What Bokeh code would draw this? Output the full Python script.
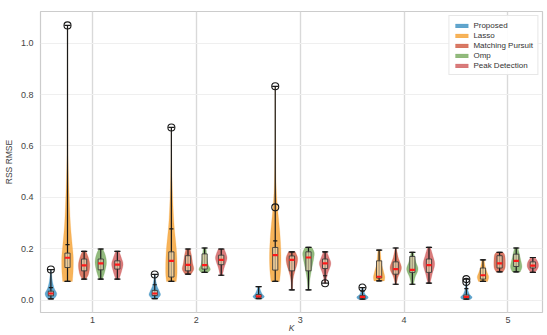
import numpy as np
from bokeh.plotting import figure
from bokeh.models import FixedTicker, Range1d
from bokeh.embed import file_html
from bokeh.resources import INLINE

# ---- data -----------------------------------------------------------------
K_VALUES = [1, 2, 3, 4, 5]
METHODS = ["Proposed", "Lasso", "Matching Pursuit", "Omp", "Peak Detection"]
COLORS = ["#3a8fc0", "#f5a030", "#d0583f", "#77a95d", "#cf5a5a"]

# per-method summary statistics, one value per K
DATA_MIN = {
    "Proposed":         [0.005, 0.006, 0.006, 0.004, 0.004],
    "Lasso":            [0.073, 0.073, 0.073, 0.075, 0.073],
    "Matching Pursuit": [0.082, 0.101, 0.040, 0.062, 0.110],
    "Omp":              [0.082, 0.108, 0.040, 0.062, 0.110],
    "Peak Detection":   [0.082, 0.097, 0.066, 0.066, 0.108],
}
DATA_MAX = {
    "Proposed":         [0.119, 0.100, 0.053, 0.049, 0.082],
    "Lasso":            [1.069, 0.672, 0.832, 0.195, 0.157],
    "Matching Pursuit": [0.190, 0.199, 0.188, 0.203, 0.186],
    "Omp":              [0.199, 0.203, 0.205, 0.186, 0.203],
    "Peak Detection":   [0.190, 0.199, 0.188, 0.205, 0.166],
}
Q1 = {
    "Proposed":         [0.017, 0.018, 0.011, 0.008, 0.008],
    "Lasso":            [0.127, 0.090, 0.117, 0.086, 0.082],
    "Matching Pursuit": [0.114, 0.114, 0.114, 0.101, 0.125],
    "Omp":              [0.118, 0.121, 0.114, 0.108, 0.131],
    "Peak Detection":   [0.121, 0.138, 0.123, 0.108, 0.125],
}
MEDIAN = {
    "Proposed":         [0.026, 0.026, 0.015, 0.013, 0.013],
    "Lasso":            [0.165, 0.153, 0.175, 0.091, 0.097],
    "Matching Pursuit": [0.135, 0.137, 0.157, 0.121, 0.143],
    "Omp":              [0.143, 0.136, 0.166, 0.118, 0.153],
    "Peak Detection":   [0.138, 0.157, 0.143, 0.136, 0.134],
}
Q3 = {
    "Proposed":         [0.035, 0.038, 0.022, 0.018, 0.020],
    "Lasso":            [0.183, 0.188, 0.205, 0.153, 0.125],
    "Matching Pursuit": [0.160, 0.173, 0.172, 0.149, 0.173],
    "Omp":              [0.160, 0.180, 0.188, 0.170, 0.179],
    "Peak Detection":   [0.153, 0.175, 0.160, 0.160, 0.149],
}
WHISKER_LO = {
    "Proposed":         [0.005, 0.006, 0.006, 0.004, 0.004],
    "Lasso":            [0.073, 0.073, 0.073, 0.075, 0.073],
    "Matching Pursuit": [0.082, 0.101, 0.040, 0.062, 0.110],
    "Omp":              [0.082, 0.108, 0.040, 0.062, 0.110],
    "Peak Detection":   [0.082, 0.097, 0.095, 0.066, 0.108],
}
WHISKER_HI = {
    "Proposed":         [0.049, 0.060, 0.053, 0.035, 0.045],
    "Lasso":            [0.216, 0.277, 0.231, 0.195, 0.157],
    "Matching Pursuit": [0.190, 0.199, 0.188, 0.203, 0.186],
    "Omp":              [0.199, 0.203, 0.205, 0.186, 0.203],
    "Peak Detection":   [0.190, 0.199, 0.188, 0.205, 0.166],
}
OUTLIERS = {
    "Proposed":         [[0.119], [0.100], [], [0.049], [0.071, 0.082]],
    "Lasso":            [[1.069], [0.672], [0.361, 0.832], [], []],
    "Matching Pursuit": [[], [], [], [], []],
    "Omp":              [[], [], [], [], []],
    "Peak Detection":   [[], [], [0.066], [], []],
}

# violin outlines: (value, relative half-width) knots, one list per K
PROPOSED_SHAPES = [
    [(0.005, 0.5), (0.015, 0.9), (0.028, 1.0), (0.045, 0.6), (0.07, 0.3), (0.095, 0.15), (0.119, 0.05)],
    [(0.006, 0.5), (0.020, 1.0), (0.035, 0.8), (0.055, 0.4), (0.075, 0.2), (0.100, 0.05)],
    [(0.006, 0.7), (0.014, 1.0), (0.025, 0.6), (0.040, 0.3), (0.053, 0.15)],
    [(0.004, 0.8), (0.012, 1.0), (0.022, 0.5), (0.035, 0.25), (0.049, 0.1)],
    [(0.004, 0.8), (0.012, 1.0), (0.025, 0.5), (0.045, 0.2), (0.065, 0.1), (0.082, 0.05)],
]
LASSO_SHAPES = [
    [(0.073, 0.85), (0.12, 1.0), (0.17, 1.0), (0.22, 0.8), (0.30, 0.5), (0.43, 0.25),
     (0.55, 0.1), (0.70, 0.05), (0.90, 0.03), (1.069, 0.02)],
    [(0.073, 0.85), (0.11, 1.0), (0.19, 0.9), (0.30, 0.45), (0.43, 0.18), (0.55, 0.06), (0.672, 0.02)],
    [(0.073, 0.75), (0.12, 0.95), (0.18, 1.0), (0.25, 0.85), (0.30, 0.65), (0.36, 0.4),
     (0.45, 0.15), (0.60, 0.05), (0.832, 0.02)],
    [(0.075, 0.9), (0.09, 1.0), (0.11, 0.8), (0.14, 0.45), (0.17, 0.3), (0.195, 0.2)],
    [(0.073, 0.8), (0.09, 1.0), (0.11, 0.7), (0.13, 0.4), (0.157, 0.2)],
]
MP_SHAPES = [
    [(0.082, 0.3), (0.10, 0.75), (0.135, 1.0), (0.165, 0.75), (0.19, 0.3)],
    [(0.101, 0.5), (0.12, 1.0), (0.145, 0.8), (0.175, 0.6), (0.199, 0.35)],
    [(0.040, 0.1), (0.08, 0.2), (0.11, 0.5), (0.14, 0.9), (0.165, 1.0), (0.188, 0.6)],
    [(0.062, 0.1), (0.09, 0.4), (0.125, 1.0), (0.165, 0.45), (0.203, 0.1)],
    [(0.110, 0.6), (0.125, 0.95), (0.15, 1.0), (0.175, 0.9), (0.186, 0.6)],
]
OMP_SHAPES = [
    [(0.082, 0.3), (0.11, 0.7), (0.145, 1.0), (0.175, 0.8), (0.199, 0.35)],
    [(0.108, 0.6), (0.12, 1.0), (0.14, 0.6), (0.17, 0.4), (0.203, 0.25)],
    [(0.040, 0.1), (0.08, 0.25), (0.12, 0.55), (0.16, 0.9), (0.185, 1.0), (0.205, 0.6)],
    [(0.062, 0.2), (0.09, 0.5), (0.12, 1.0), (0.15, 0.6), (0.186, 0.2)],
    [(0.110, 0.7), (0.13, 1.0), (0.16, 0.75), (0.185, 0.5), (0.203, 0.3)],
]
PEAK_SHAPES = [
    [(0.082, 0.3), (0.11, 0.7), (0.14, 1.0), (0.165, 0.7), (0.19, 0.3)],
    [(0.097, 0.2), (0.125, 0.5), (0.16, 1.0), (0.18, 0.85), (0.199, 0.5)],
    [(0.066, 0.1), (0.10, 0.4), (0.14, 1.0), (0.165, 0.7), (0.188, 0.3)],
    [(0.066, 0.2), (0.10, 0.55), (0.14, 1.0), (0.175, 0.65), (0.205, 0.25)],
    [(0.108, 0.4), (0.125, 0.9), (0.137, 1.0), (0.15, 0.85), (0.166, 0.4)],
]
SHAPES = {
    "Proposed": PROPOSED_SHAPES,
    "Lasso": LASSO_SHAPES,
    "Matching Pursuit": MP_SHAPES,
    "Omp": OMP_SHAPES,
    "Peak Detection": PEAK_SHAPES,
}

# ---- geometry helpers -----------------------------------------------------
VIOLIN_HALF = 0.055
EXTREMA_HALF = 0.03
BOX_HALF = 0.025
CAP_HALF = 0.02


def smooth_knots(knots, n=10):
    """Catmull-Rom pass through (value, width) knots for a soft outline."""
    pts = np.array(knots, dtype=float)
    ext = np.vstack([pts[0], pts, pts[-1]])
    out = []
    for i in range(len(pts) - 1):
        p0, p1, p2, p3 = ext[i], ext[i + 1], ext[i + 2], ext[i + 3]
        for t in np.linspace(0, 1, n, endpoint=False):
            out.append(0.5 * (2 * p1 + (-p0 + p2) * t
                              + (2 * p0 - 5 * p1 + 4 * p2 - p3) * t ** 2
                              + (-p0 + 3 * p1 - 3 * p2 + p3) * t ** 3))
    out.append(pts[-1])
    out = np.array(out)
    out[:, 1] = np.clip(out[:, 1], 0.0, None)
    return out


def violin_patch(xc, knots):
    s = smooth_knots(knots)
    ys, ws = s[:, 0], s[:, 1]
    left = xc - ws * VIOLIN_HALF
    right = xc + ws * VIOLIN_HALF
    return list(left) + list(right[::-1]), list(ys) + list(ys[::-1])


# ---- figure ---------------------------------------------------------------
FONT = "Liberation Sans"
TEXT_COLOR = "#444444"

p = figure(width=547, height=335, output_backend="svg", toolbar_location=None,
           x_range=Range1d(0.5, 5.333), y_range=Range1d(-0.048, 1.123),
           min_border_left=5, min_border_right=5, min_border_top=11,
           min_border_bottom=5)

p.background_fill_color = "white"
p.border_fill_color = "white"
p.outline_line_color = "#cccccc"
p.outline_line_width = 1.2

p.xgrid.ticker = FixedTicker(ticks=K_VALUES)
p.xgrid.grid_line_color = "#d9d9d9"
p.xgrid.grid_line_width = 1.4
p.ygrid.grid_line_color = "#efefef"
p.ygrid.grid_line_width = 1.0

p.xaxis.ticker = FixedTicker(ticks=K_VALUES)
p.yaxis.ticker = FixedTicker(ticks=[0.0, 0.2, 0.4, 0.6, 0.8, 1.0])
p.yaxis.major_label_overrides = {0.0: "0.0", 0.2: "0.2", 0.4: "0.4",
                                 0.6: "0.6", 0.8: "0.8", 1.0: "1.0"}
p.xaxis.major_label_overrides = {k: str(k) for k in K_VALUES}

for ax in (p.xaxis[0], p.yaxis[0]):
    ax.axis_line_color = None
    ax.major_tick_line_color = None
    ax.minor_tick_line_color = None
    ax.major_tick_in = 0
    ax.major_tick_out = 0
    ax.minor_tick_in = 0
    ax.minor_tick_out = 0
    ax.major_label_text_font = FONT
    ax.major_label_text_font_size = "9px"
    ax.major_label_text_color = TEXT_COLOR
    ax.axis_label_text_font = FONT
    ax.axis_label_text_font_size = "8.5px"
    ax.axis_label_text_color = TEXT_COLOR
    ax.axis_label_text_font_style = "normal"

p.xaxis.axis_label = "K"
p.xaxis.axis_label_text_font_style = "italic"
p.xaxis.major_label_standoff = 4
p.xaxis.axis_label_standoff = -3
p.yaxis.axis_label = "RSS RMSE"
p.yaxis.major_label_standoff = 7
p.yaxis.axis_label_standoff = 4

n_methods = len(METHODS)
offsets = [-0.4 + i * 0.16 for i in range(n_methods)]

# violins
for i, m in enumerate(METHODS):
    xs_all, ys_all = [], []
    for j, k in enumerate(K_VALUES):
        xs, ys = violin_patch(k + offsets[i], SHAPES[m][j])
        xs_all.append(xs)
        ys_all.append(ys)
    p.patches(xs_all, ys_all, fill_color=COLORS[i], fill_alpha=0.8,
              line_color=COLORS[i], line_alpha=0.35, line_width=0.6,
              legend_label=m)

# extrema bars, boxes, medians, outliers
for i, m in enumerate(METHODS):
    cx = [k + offsets[i] for k in K_VALUES]
    vmin, vmax = DATA_MIN[m], DATA_MAX[m]
    p.segment(cx, vmin, cx, vmax, line_color="#1a1a1a", line_width=1.2)
    for vals, half in ((vmin, EXTREMA_HALF), (vmax, EXTREMA_HALF),
                       (WHISKER_LO[m], CAP_HALF), (WHISKER_HI[m], CAP_HALF)):
        p.segment([x - half for x in cx], vals, [x + half for x in cx], vals,
                  line_color="#1a1a1a", line_width=1.2)
    p.quad(left=[x - BOX_HALF for x in cx], right=[x + BOX_HALF for x in cx],
           bottom=Q1[m], top=Q3[m], fill_color="#f3dfb8", fill_alpha=0.65,
           line_color="#3a3a3a", line_width=0.9)
    p.segment([x - BOX_HALF for x in cx], MEDIAN[m], [x + BOX_HALF for x in cx],
              MEDIAN[m], line_color="#ff1a1a", line_width=2.2)
    ox, oy = [], []
    for x, pts in zip(cx, OUTLIERS[m]):
        ox += [x] * len(pts)
        oy += pts
    if ox:
        p.scatter(ox, oy, marker="circle", size=7, fill_color=None,
                  line_color="#1a1a1a", line_width=1.1)

leg = p.legend[0]
leg.location = "top_right"
leg.margin = 4
leg.padding = 4
leg.spacing = 0
leg.label_text_font = FONT
leg.label_text_font_size = "8px"
leg.label_text_color = "#333333"
leg.label_height = 10
leg.label_standoff = 4
leg.glyph_height = 5
leg.glyph_width = 16
leg.border_line_color = "#d0d0d0"
leg.border_line_width = 1
leg.background_fill_alpha = 0.9

open("out.html", "w").write(file_html(p, INLINE))
